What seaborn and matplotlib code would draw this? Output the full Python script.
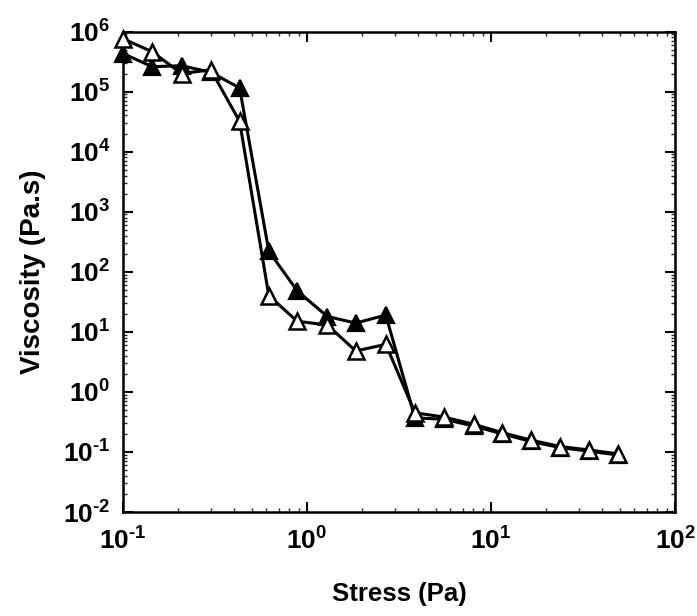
import numpy as np
import pandas as pd
import matplotlib
matplotlib.use("Agg")
import matplotlib.pyplot as plt
import seaborn as sns
from matplotlib.ticker import LogLocator, FuncFormatter, NullFormatter

# Shear stress (Pa) and apparent viscosity (Pa.s) for the two samples
stress = [0.1, 0.144, 0.208, 0.30, 0.43, 0.62, 0.885, 1.29, 1.84, 2.68,
          3.86, 5.57, 8.04, 11.5, 16.4, 23.8, 34.0, 49.0]
visc_filled = [4.3e5, 2.6e5, 2.7e5, 2.1e5, 1.15e5, 220, 48, 18, 14, 19,
               0.37, 0.35, 0.27, 0.20, 0.15, 0.118, 0.103, 0.089]
visc_open = [7.6e5, 4.6e5, 2.0e5, 2.3e5, 3.2e4, 40, 15, 13, 4.8, 6.2,
             0.45, 0.38, 0.29, 0.21, 0.158, 0.123, 0.108, 0.093]

x_ticks = [0.1, 1, 10, 100]
y_ticks = [1e-2, 1e-1, 1e0, 1e1, 1e2, 1e3, 1e4, 1e5, 1e6]

sns.set_theme(style="ticks")
plt.rcParams["font.family"] = ["Liberation Sans", "DejaVu Sans"]
plt.rcParams["font.weight"] = "bold"
plt.rcParams["text.color"] = "black"
plt.rcParams["axes.labelcolor"] = "black"
plt.rcParams["mathtext.fontset"] = "custom"
plt.rcParams["mathtext.rm"] = "Liberation Sans:bold"
plt.rcParams["mathtext.bf"] = "Liberation Sans:bold"
plt.rcParams["mathtext.it"] = "Liberation Sans:bold"

df_f = pd.DataFrame({"stress": stress, "viscosity": visc_filled})
df_o = pd.DataFrame({"stress": stress, "viscosity": visc_open})

fig = plt.figure(figsize=(6.97, 6.16), dpi=100)
ax = fig.add_axes([0.1765, 0.1688, 0.792, 0.780])

sns.lineplot(data=df_f, x="stress", y="viscosity", ax=ax, sort=False,
             color="black", linewidth=2.2, marker="^", markersize=11,
             markerfacecolor="black", markeredgecolor="black",
             markeredgewidth=1.6, zorder=3, clip_on=False)
sns.lineplot(data=df_o, x="stress", y="viscosity", ax=ax, sort=False,
             color="black", linewidth=2.2, marker="^", markersize=11,
             markerfacecolor="white", markeredgecolor="black",
             markeredgewidth=1.8, zorder=4, clip_on=False)

ax.set_xscale("log")
ax.set_yscale("log")
ax.set_xlim(0.1, 100)
ax.set_ylim(1e-2, 1e6)
ax.set_xticks(x_ticks)
ax.set_yticks(y_ticks)

def pow10(v, pos):
    e = int(round(np.log10(v)))
    exp = r"\text{-}%d" % abs(e) if e < 0 else "%d" % e
    return r"$\mathrm{10^{%s}}$" % exp

ax.xaxis.set_major_formatter(FuncFormatter(pow10))
ax.yaxis.set_major_formatter(FuncFormatter(pow10))
ax.xaxis.set_minor_locator(LogLocator(base=10, subs=np.arange(2, 10), numticks=20))
ax.yaxis.set_minor_locator(LogLocator(base=10, subs=np.arange(2, 10), numticks=20))
ax.xaxis.set_minor_formatter(NullFormatter())
ax.yaxis.set_minor_formatter(NullFormatter())

ax.tick_params(which="major", direction="in", length=7, width=1.5,
               top=True, right=True, labelsize=19, colors="black")
ax.tick_params(axis="x", which="major", pad=11)
ax.tick_params(axis="y", which="major", pad=9)
ax.tick_params(which="minor", direction="in", length=3, width=1.0,
               top=True, right=True)
for s in ax.spines.values():
    s.set_linewidth(1.8)
    s.set_color("black")

ax.set_xlabel("Stress (Pa)", fontsize=18.5, fontweight="bold", labelpad=20)
ax.set_ylabel("Viscosity (Pa.s)", fontsize=20, fontweight="bold", labelpad=12)
ax.grid(False)
ax.set_facecolor("white")

fig.savefig("out.png", dpi=100, facecolor="white")
